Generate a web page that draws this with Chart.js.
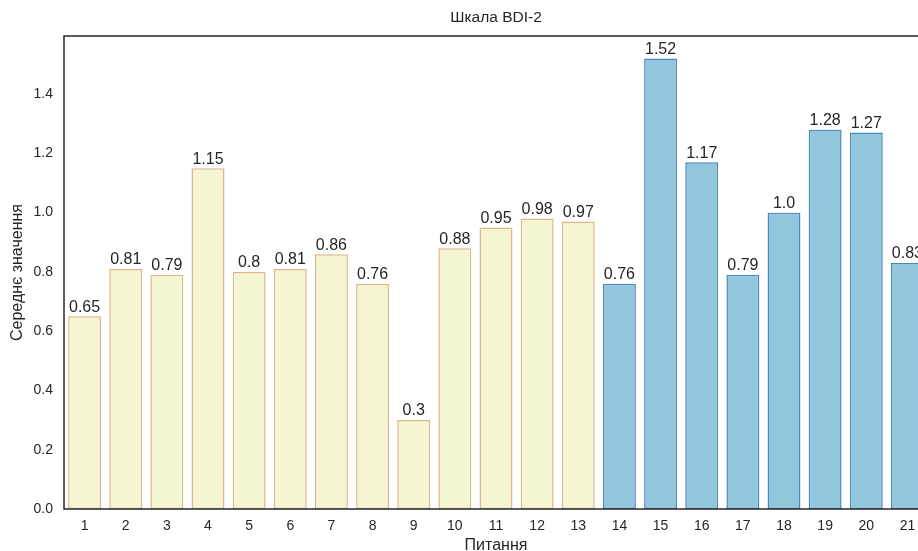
<!DOCTYPE html>
<html>
<head>
<meta charset="utf-8">
<script src="https://cdn.jsdelivr.net/npm/chart.js@4"></script>
<style>
  html, body { margin: 0; padding: 0; background: #fff; overflow: hidden; }
  canvas { display: block; }
</style>
</head>
<body>
<canvas id="myChart" width="930" height="560"></canvas>
<script>
const questions = ['1','2','3','4','5','6','7','8','9','10','11','12','13','14','15','16','17','18','19','20','21'];
const means = [0.65, 0.81, 0.79, 1.15, 0.8, 0.81, 0.86, 0.76, 0.3, 0.88, 0.95, 0.98, 0.97,
               0.76, 1.52, 1.17, 0.79, 1.0, 1.28, 1.27, 0.83];
const groups = ['a','a','a','a','a','a','a','a','a','a','a','a','a',
                'b','b','b','b','b','b','b','b'];
const chartTitle = 'Шкала BDI-2';
const xTitle = 'Питання';
const yTitle = 'Середнє значення';

const fillCol = { a: '#f5f5d1', b: '#92c6dc' };
const edgeCol = { a: '#dcb88a', b: '#4a86c0' };
const ink = '#262626';
const font = 'Liberation Sans, Arial, sans-serif';

function fmt(v) {
    return (v % 1 === 0) ? v.toFixed(1) : String(v);
}

// frame, title, bar labels
const extras = {
    id: 'extras',
    afterDatasetsDraw(chart) {
        const ctx = chart.ctx;
        const a = chart.chartArea;
        ctx.save();
        ctx.fillStyle = ink;
        ctx.font = '16px ' + font;
        ctx.textAlign = 'center';
        ctx.textBaseline = 'bottom';
        chart.getDatasetMeta(0).data.forEach((bar, i) => {
            ctx.fillText(fmt(means[i]), bar.x, bar.y - 1);
        });
        ctx.font = '15.5px ' + font;
        ctx.textBaseline = 'middle';
        ctx.fillText(chartTitle, (a.left + a.right) / 2, 18);
        ctx.strokeStyle = ink;
        ctx.lineWidth = 1.5;
        ctx.strokeRect(a.left, a.top, a.right - a.left, a.bottom - a.top);
        ctx.restore();
    }
};

let myChart = document.getElementById('myChart').getContext('2d');
let bdiChart = new Chart(myChart, {
    type: 'bar',
    data: {
        labels: questions,
        datasets: [{
            data: means,
            backgroundColor: groups.map(g => fillCol[g]),
            borderColor: groups.map(g => edgeCol[g]),
            borderWidth: 1.5,
            borderSkipped: false,
            categoryPercentage: 1.0,
            barPercentage: 0.8
        }]
    },
    options: {
        responsive: false,
        animation: false,
        layout: { padding: { top: 36, right: 2, left: 0, bottom: 0 } },
        plugins: {
            legend: { display: false },
            title: { display: false },
            tooltip: { enabled: false }
        },
        scales: {
            x: {
                grid: { display: false, drawTicks: false },
                border: { display: false },
                ticks: { color: ink, font: { size: 14, family: font }, padding: 9, maxRotation: 0 },
                title: { display: true, text: xTitle, color: ink, font: { size: 16, family: font }, padding: { top: 0, bottom: 5 } },
                afterFit(s) { s.height = 51; }
            },
            y: {
                min: 0,
                max: 1.596,
                grid: { display: false, drawTicks: false },
                border: { display: false },
                ticks: {
                    stepSize: 0.2,
                    color: ink,
                    font: { size: 14, family: font },
                    padding: 11,
                    callback: v => v.toFixed(1)
                },
                afterBuildTicks(s) {
                    s.ticks = s.ticks.filter(t => t.value < 1.5 && Math.abs(t.value * 5 - Math.round(t.value * 5)) < 1e-6);
                },
                title: { display: true, text: yTitle, color: ink, font: { size: 16, family: font }, padding: { top: 8, bottom: 0 } },
                afterFit(s) { s.width = 64; }
            }
        }
    },
    plugins: [extras]
});
</script>
</body>
</html>
